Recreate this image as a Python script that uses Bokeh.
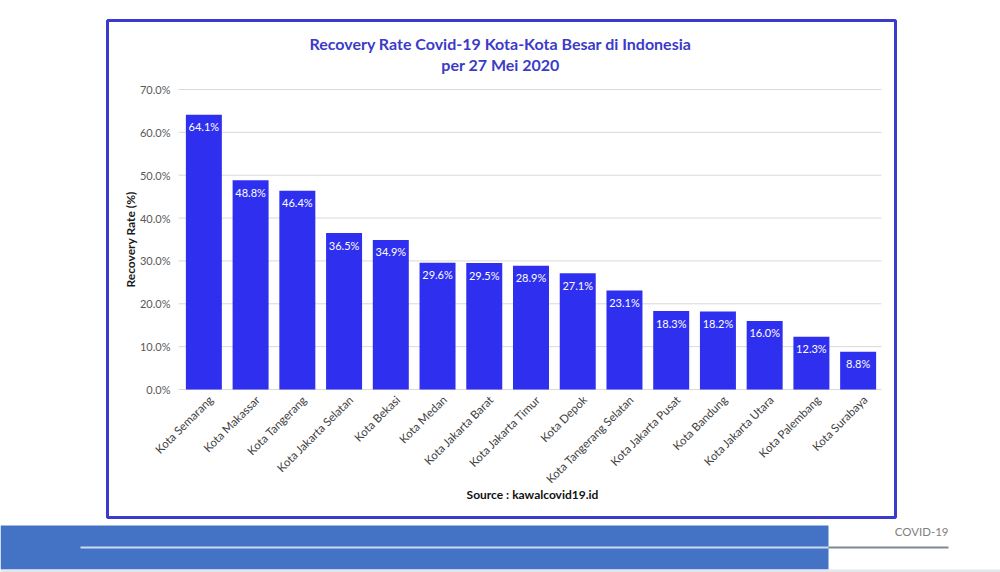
from math import pi

from bokeh.core.properties import value
from bokeh.embed import file_html
from bokeh.models import ColumnDataSource, Range1d
from bokeh.plotting import figure
from bokeh.resources import INLINE

# Recovery rate (%) per city, 27 May 2020
cities = [
    "Kota Semarang", "Kota Makassar", "Kota Tangerang", "Kota Jakarta Selatan",
    "Kota Bekasi", "Kota Medan", "Kota Jakarta Barat", "Kota Jakarta Timur",
    "Kota Depok", "Kota Tangerang Selatan", "Kota Jakarta Pusat",
    "Kota Bandung", "Kota Jakarta Utara", "Kota Palembang", "Kota Surabaya",
]
recovery = [64.1, 48.8, 46.4, 36.5, 34.9, 29.6, 29.5, 28.9, 27.1, 23.1,
            18.3, 18.2, 16.0, 12.3, 8.8]
y_ticks = [0, 10, 20, 30, 40, 50, 60, 70]
y_tick_labels = [f"{t:.1f}%" for t in y_ticks]

title_lines = ["Recovery Rate Covid-19 Kota-Kota Besar di Indonesia",
               "per 27 Mei 2020"]
y_label = "Recovery Rate (%)"
source_note = "Source : kawalcovid19.id"
footer_tag = "COVID-19"

# page geometry (pixels, origin top-left)
W, H = 1000, 572
PLOT_L, PLOT_R = 180, 881        # category band
PLOT_B, PLOT_T = 389, 89         # 0 % and top of value axis
VMAX = 70

FONT = "Lato"
BAR = "#2f2ff0"
NAVY = "#3a3acc"
TITLE_BLUE = "#3b3bc8"

p = figure(
    width=W, height=H, title=None,
    x_range=Range1d(0, W), y_range=Range1d(H, 0),
    x_axis_type=None, y_axis_type=None,
    output_backend="svg", toolbar_location=None,
    min_border=0, outline_line_color=None,
    background_fill_color="white", border_fill_color="white",
)

# scales for the chart itself: category index and value (%)
band = (PLOT_R - PLOT_L) / len(cities)
px_per_val = (PLOT_B - PLOT_T) / VMAX
p.extra_x_ranges = {"cat": Range1d(-PLOT_L / band, (W - PLOT_L) / band)}
p.extra_y_ranges = {"val": Range1d((PLOT_B - H) / px_per_val, PLOT_B / px_per_val)}

src = ColumnDataSource(dict(
    xc=[i + 0.5 for i in range(len(cities))],
    city=cities,
    rate=recovery,
    label=[f"{v:.1f}%" for v in recovery],
))

# horizontal grid
p.segment(x0=PLOT_L - 2, x1=PLOT_R, y0=y_ticks, y1=y_ticks,
          y_range_name="val", line_color="#d9d9d9", line_width=1)

# bars and their value labels
p.vbar(x="xc", top="rate", bottom=0, width=0.77, source=src,
       x_range_name="cat", y_range_name="val",
       fill_color=BAR, line_color=None)
p.text(x="xc", y="rate", text="label", source=src,
       x_range_name="cat", y_range_name="val",
       text_align="center", text_baseline="middle", y_offset=12,
       text_color="white", text_font=value(FONT), text_font_size="11px")

# value axis labels
p.text(x=[PLOT_L - 10] * len(y_ticks), y=y_ticks, text=y_tick_labels,
       y_range_name="val", text_align="right", text_baseline="middle",
       text_color="#595959", text_font=value(FONT), text_font_size="11px")
p.text(x=[130], y=[VMAX / 2], text=[y_label], y_range_name="val",
       angle=pi / 2, text_align="center", text_baseline="middle",
       text_color="#1a1a1a", text_font=value(FONT), text_font_style="bold",
       text_font_size="12px")

# category labels, rotated 45 degrees
p.text(x="xc", y=0, text="city", source=src,
       x_range_name="cat", y_range_name="val",
       angle=pi / 4, text_align="right", text_baseline="middle",
       x_offset=7, y_offset=8,
       text_color="#404040", text_font=value(FONT), text_font_size="11.5px")

# chart frame
p.quad(left=[107], right=[895], top=[20], bottom=[517],
       fill_color=None, line_color=NAVY, line_width=3)

# title
p.text(x=[500, 500], y=[43, 64], text=title_lines,
       text_align="center", text_baseline="middle",
       text_color=TITLE_BLUE, text_font=value(FONT), text_font_style="bold",
       text_font_size="16px")

# source note
p.text(x=[532], y=[494], text=[source_note],
       text_align="center", text_baseline="middle",
       text_color="#111111", text_font=value(FONT), text_font_style="bold",
       text_font_size="12px")

# footer band
p.quad(left=[0], right=[828], top=[525], bottom=[569],
       fill_color="#4472c4", line_color=None)
p.segment(x0=[80], x1=[828], y0=[547], y1=[547],
          line_color="#c9dcf2", line_width=2)
p.segment(x0=[828], x1=[948], y0=[547], y1=[547],
          line_color="#7a8a9a", line_width=2)
p.segment(x0=[0], x1=[W], y0=[570.5], y1=[570.5],
          line_color="#e3e6ea", line_width=3)
p.text(x=[948], y=[531], text=[footer_tag],
       text_align="right", text_baseline="middle",
       text_color="#7f7f7f", text_font=value(FONT), text_font_size="11.5px")

open("out.html", "w").write(file_html(p, INLINE))
